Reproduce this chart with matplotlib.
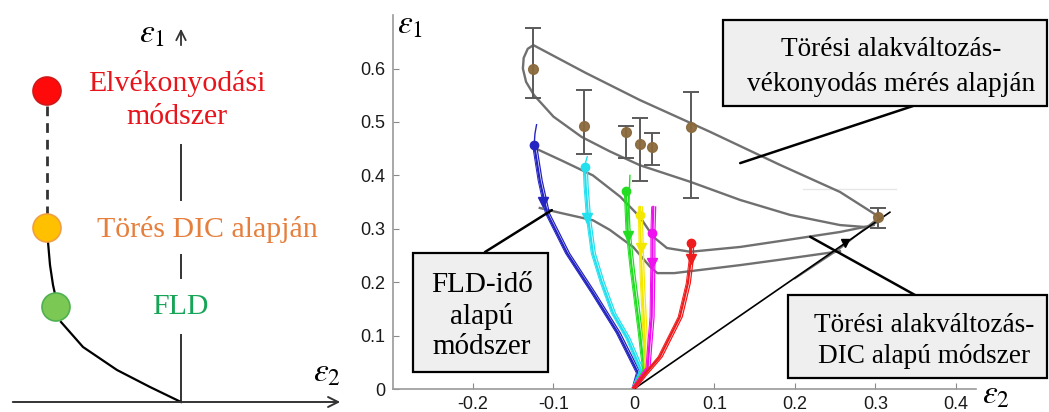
import matplotlib
matplotlib.use('Agg')
import matplotlib.pyplot as plt
from matplotlib.patches import Circle, Rectangle, ConnectionPatch

plt.rcParams['mathtext.fontset'] = 'stix'
SERIF = ['Liberation Serif', 'DejaVu Serif']
SANS = ['Liberation Sans', 'DejaVu Sans']

W, H = 1049, 412

# ---------------- data ----------------
x_ticks = [-0.2, -0.1, 0.0, 0.1, 0.2, 0.3, 0.4]
x_tick_labels = ['-0.2', '-0.1', '0', '0.1', '0.2', '0.3', '0.4']
y_ticks = [0.0, 0.1, 0.2, 0.3, 0.4, 0.5, 0.6]
y_tick_labels = ['0', '0.1', '0.2', '0.3', '0.4', '0.5', '0.6']

# thickness-measurement fracture strains (mean, lower, upper)
meas_x = [-0.125, -0.062, -0.010, 0.007, 0.022, 0.071, 0.303]
meas_y = [0.600, 0.493, 0.482, 0.458, 0.454, 0.491, 0.323]
meas_lo = [0.545, 0.441, 0.433, 0.390, 0.420, 0.357, 0.302]
meas_hi = [0.676, 0.559, 0.492, 0.508, 0.480, 0.557, 0.339]

# strain paths (origin -> end)
blue_x = [0.000, 0.005, -0.020, -0.051, -0.083, -0.108, -0.117, -0.124]
blue_y = [0.003, 0.030, 0.105, 0.180, 0.254, 0.329, 0.390, 0.457]
blue_tail_x = [-0.124, -0.123, -0.121]
blue_tail_y = [0.457, 0.478, 0.495]

cyan_x = [0.000, 0.009, -0.008, -0.026, -0.040, -0.051, -0.057, -0.060, -0.061]
cyan_y = [0.003, 0.035, 0.095, 0.142, 0.200, 0.254, 0.320, 0.380, 0.416]
cyan_tail_x = [-0.061, -0.060, -0.058]
cyan_tail_y = [0.416, 0.425, 0.435]

green_x = [0.000, 0.013, 0.010, 0.0075, 0.002, -0.003, -0.008, -0.010]
green_y = [0.003, 0.035, 0.070, 0.104, 0.170, 0.229, 0.300, 0.371]
green_tail_x = [-0.008, -0.006, -0.005]
green_tail_y = [0.300, 0.360, 0.400]

yellow_x = [0.000, 0.015, 0.014, 0.012, 0.010, 0.0085, 0.0075, 0.0075]
yellow_y = [0.003, 0.035, 0.080, 0.140, 0.200, 0.264, 0.326, 0.341]

magenta_x = [0.000, 0.017, 0.019, 0.022, 0.023, 0.023, 0.024]
magenta_y = [0.003, 0.040, 0.080, 0.135, 0.236, 0.292, 0.341]

red_x = [0.000, 0.012, 0.032, 0.057, 0.067, 0.071, 0.071]
red_y = [0.002, 0.025, 0.060, 0.135, 0.198, 0.247, 0.273]

path_dots_x = [-0.124, -0.061, -0.010, 0.0075, 0.023, 0.071]
path_dots_y = [0.457, 0.416, 0.371, 0.326, 0.292, 0.273]
path_tri_x = [-0.113, -0.058, -0.007, 0.0085, 0.023, 0.071]
path_tri_y = [0.350, 0.320, 0.287, 0.264, 0.236, 0.243]
path_colors = ['#2424c0', '#22e0ee', '#22dd22', '#f5e800', '#ee10ee', '#ee1c1c']

black_x = [0.000, 0.318]
black_y = [0.000, 0.331]
black_tri_x = [0.262]
black_tri_y = [0.274]
gray_bi_x = [0.200, 0.255, 0.300]
gray_bi_y = [0.207, 0.262, 0.316]

# limit curves
loop_x = [0.305, 0.256, 0.181, 0.094, 0.0075, -0.060, -0.125, -0.132, -0.137, -0.138,
          -0.134, -0.124, -0.100, -0.065, -0.030, 0.0075, 0.070, 0.132, 0.194, 0.256,
          0.290, 0.305]
loop_y = [0.322, 0.369, 0.420, 0.482, 0.541, 0.592, 0.644, 0.637, 0.620, 0.600,
          0.575, 0.550, 0.510, 0.472, 0.445, 0.419, 0.388, 0.354, 0.326, 0.307,
          0.303, 0.315]
mid_x = [-0.123, -0.090, -0.051, -0.017, 0.0075, 0.024, 0.041, 0.070, 0.132, 0.181, 0.256, 0.298]
mid_y = [0.451, 0.428, 0.400, 0.360, 0.322, 0.285, 0.264, 0.257, 0.266, 0.277, 0.294, 0.307]
low_x = [-0.117, -0.092, -0.051, -0.030, -0.001, 0.020, 0.029, 0.050, 0.132, 0.181, 0.256]
low_y = [0.339, 0.330, 0.316, 0.298, 0.266, 0.229, 0.217, 0.217, 0.232, 0.242, 0.258]

# ---------------- figure ----------------
fig = plt.figure(figsize=(W / 100, H / 100), dpi=100)

# main axes
x0, x1 = -0.3, 0.425
y0, y1 = 0.0, 0.70
ax = fig.add_axes([392.5 / W, (H - 389) / H, 583.5 / W, 373.8 / H])
ax.set_xlim(x0, x1)
ax.set_ylim(y0, y1)
for s in ['top', 'right']:
    ax.spines[s].set_visible(False)
for s in ['left', 'bottom']:
    ax.spines[s].set_color('#9a9a9a')
    ax.spines[s].set_linewidth(1.2)
ax.set_xticks(x_ticks)
ax.set_xticklabels(x_tick_labels)
ax.set_yticks(y_ticks)
ax.set_yticklabels(y_tick_labels)
ax.tick_params(direction='in', length=4, color='#8a8a8a', labelsize=13,
               labelcolor='#1a1a1a')
ax.tick_params(axis='x', pad=5)
ax.tick_params(axis='y', pad=5)
for lab in ax.get_xticklabels() + ax.get_yticklabels():
    lab.set_family(SANS)

gray = '#707070'
ax.plot(loop_x, loop_y, color=gray, lw=1.7, zorder=2)
ax.plot(mid_x, mid_y, color=gray, lw=1.7, zorder=2)
ax.plot(low_x, low_y, color=gray, lw=1.7, zorder=2)

# faint artefact line
ax.plot([0.21, 0.325], [0.374, 0.374], color='#e6e6e6', lw=1, zorder=1)

# biaxial path
ax.plot(gray_bi_x, gray_bi_y, color=gray, lw=1.3, zorder=2)
ax.plot(black_x, black_y, color='black', lw=1.2, zorder=3)
ax.plot(black_tri_x, black_tri_y, 'v', color='black', ms=6, zorder=4)

paths = [(blue_x, blue_y), (cyan_x, cyan_y), (green_x, green_y),
         (yellow_x, yellow_y), (magenta_x, magenta_y), (red_x, red_y)]
for (px_, py_), c in zip(paths, path_colors):
    ax.plot(px_, py_, color=c, lw=1.6, zorder=3)
    ax.plot([v + 0.003 for v in px_], py_, color=c, lw=0.9, zorder=3)
    ax.plot([v - 0.002 for v in px_], py_, color=c, lw=0.7, zorder=3)
ax.plot(blue_tail_x, blue_tail_y, color=path_colors[0], lw=1.0, zorder=3)
ax.plot(cyan_tail_x, cyan_tail_y, color=path_colors[1], lw=1.0, zorder=3)
ax.plot(green_tail_x, green_tail_y, color=path_colors[2], lw=1.0, zorder=3)
for xd, yd, xt, yt, c in zip(path_dots_x, path_dots_y, path_tri_x, path_tri_y, path_colors):
    ax.plot([xd], [yd], 'o', color=c, ms=6, zorder=4)
    ax.plot([xt], [yt], 'v', color=c, ms=7, zorder=4)

# measurement points with error bars
err_lo = [m - l for m, l in zip(meas_y, meas_lo)]
err_hi = [h - m for m, h in zip(meas_y, meas_hi)]
ax.errorbar(meas_x, meas_y, yerr=[err_lo, err_hi], fmt='none', ecolor='#5a5a5a',
            elinewidth=1.4, capsize=5.5, capthick=1.4, zorder=5)
ax.plot(meas_x, meas_y, 'o', color='#8a6a3c', ms=7, alpha=0.95, zorder=6)

# axis labels
fig.text(397 / W, 1 - 24 / H, r'$\varepsilon_1$', fontsize=24, ha='left', va='center')
fig.text(982 / W, 1 - 394 / H, r'$\varepsilon_2$', fontsize=24, ha='left', va='center')

# ---------------- overlay (pixel coords) ----------------
ov = fig.add_axes([0, 0, 1, 1], facecolor='none')
ov.set_xlim(0, W)
ov.set_ylim(H, 0)
ov.axis('off')
ov.set_zorder(10)

# schematic axes
ov.annotate('', xy=(343, 402), xytext=(10, 402),
            arrowprops=dict(arrowstyle='->', lw=1.4, color='#333333', mutation_scale=18))
ov.plot([181, 181], [402, 335], color='#333333', lw=1.4)
ov.plot([181, 181], [278, 255], color='#333333', lw=1.4)
ov.plot([181, 181], [200, 145], color='#333333', lw=1.4)
ov.annotate('', xy=(181, 26), xytext=(181, 48),
            arrowprops=dict(arrowstyle='->', lw=1.3, color='#333333', mutation_scale=17))
ov.text(152, 33, r'$\varepsilon_1$', fontsize=24, ha='center', va='center')
ov.text(327, 372, r'$\varepsilon_2$', fontsize=24, ha='center', va='center')

ov.plot([47, 47], [106, 214], color='#333333', lw=2, dashes=(3.5, 2.5))
ov.plot([48, 50, 53, 55], [242, 265, 285, 294], color='black', lw=1.6)
ov.plot([61, 83, 117, 150, 181], [322, 347, 370, 387, 402], color='black', lw=1.6)
ov.add_patch(Circle((47, 91), 14, facecolor='#ff0a0a', edgecolor='#d01818', lw=1.2, zorder=5))
ov.add_patch(Circle((47, 228), 14, facecolor='#ffc000', edgecolor='#f0a040', lw=1.2, zorder=5))
ov.add_patch(Circle((56, 307), 14, facecolor='#7cc855', edgecolor='#50b050', lw=1.2, zorder=5))

ov.text(177, 83, 'Elvékonyodási', fontsize=21.5, color='#e8141c', family=SERIF,
        ha='center', va='center')
ov.text(177, 117, 'módszer', fontsize=21.5, color='#e8141c', family=SERIF,
        ha='center', va='center')
ov.text(207, 229, 'Törés DIC alapján', fontsize=21.5, color='#e67e3c', family=SERIF,
        ha='center', va='center')
ov.text(180, 307, 'FLD', fontsize=21.5, color='#16a456', family=SERIF,
        ha='center', va='center')

# annotation boxes
box_kw = dict(facecolor='#efefef', edgecolor='black', lw=1.6, zorder=6, clip_on=False)
ov.add_patch(Rectangle((413, 253), 135, 119, **box_kw))
ov.add_patch(Rectangle((723, 20), 324, 86, **box_kw))
ov.add_patch(Rectangle((788, 295), 259, 83, **box_kw))
ov.text(482, 316, 'FLD-idő\nalapú\nmódszer', fontsize=21, family=SERIF,
        ha='center', va='center', linespacing=1.22, zorder=7)
ov.text(891, 67, 'Törési alakváltozás-\nvékonyodás mérés alapján', fontsize=19.6,
        family=SERIF, ha='center', va='center', linespacing=1.55, zorder=7)
ov.text(924, 341, 'Törési alakváltozás-\nDIC alapú módszer', fontsize=19.6,
        family=SERIF, ha='center', va='center', linespacing=1.35, zorder=7)

for (bx, by), (dx, dy) in [((485, 252), (-0.102, 0.335)),
                           ((913, 106), (0.132, 0.423)),
                           ((915, 295), (0.219, 0.285))]:
    con = ConnectionPatch(xyA=(bx, by), coordsA=ov.transData, xyB=(dx, dy),
                          coordsB=ax.transData, color='black', lw=1.8, zorder=5)
    fig.add_artist(con)

fig.savefig('out.png', dpi=100)
